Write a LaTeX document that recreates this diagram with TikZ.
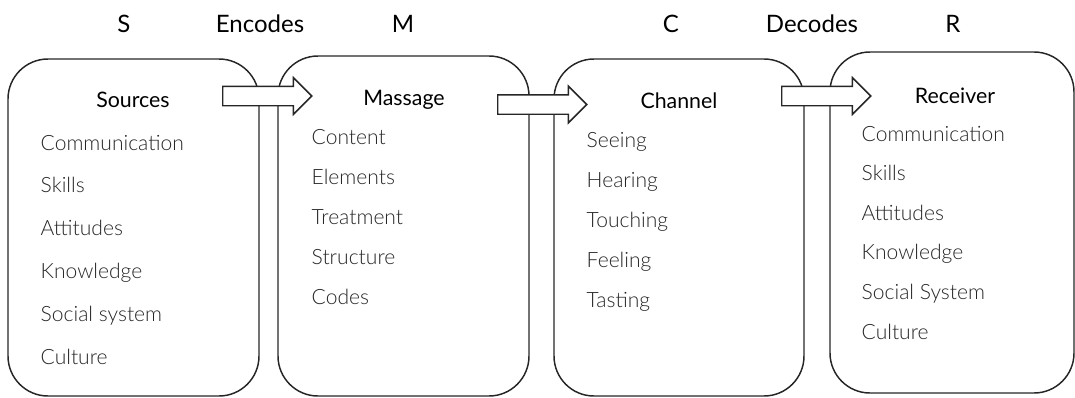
\documentclass[tikz,border=0pt]{standalone}
\usepackage{fontspec}
\setmainfont{Lato}[UprightFont=* Light, BoldFont=* Regular]
\usetikzlibrary{shapes.arrows}

\begin{document}
\begin{tikzpicture}[
    x=0.75pt, y=-0.75pt,
    font=\fontsize{15.8}{18}\selectfont,
    caja/.style={draw=black!85, line width=1.1pt, rounded corners=30pt, inner sep=0pt},
    flecha/.style={single arrow, draw=black!85, fill=white, line width=1.1pt,
      inner xsep=0pt, inner ysep=6.75pt, minimum height=66.75pt,
      single arrow head extend=6.4pt, anchor=tail},
    letra/.style={anchor=base, black, font=\fontsize{18}{20}\bfseries},
    titulo/.style={anchor=base, black, font=\fontsize{16}{18}\bfseries},
    elemento/.style={anchor=base west, black!85}
  ]
  % 1 px de la referencia = 0,75 pt; y crece hacia abajo.
  \useasboundingbox (0,0) rectangle (1075,397);

  % --- cajas ---
  \node[caja, minimum width=188.25pt, minimum height=252.75pt] (fuente)  at (133.5,227.5) {};
  \node[caja, minimum width=188.25pt, minimum height=255pt]    (mensaje) at (403.5,226) {};
  \node[caja, minimum width=187.5pt,  minimum height=252.75pt] (canal)   at (679,227.5) {};
  \node[caja, minimum width=183pt,    minimum height=255.75pt] (receptor) at (952,222.5) {};

  % --- flechas de bloque, por encima de los bordes ---
  \node[flecha] (codifica) at (222,96) {};
  \node[flecha] (transmite) at (497,104.5) {};
  \node[flecha] (decodifica) at (781,96) {};

  % --- fila superior ---
  \foreach \xc/\nombre/\txt in {124/s/S, 260/enc/Encodes, 403/m/M, 671/c/C, 812/dec/Decodes, 953/r/R}{
    \node[letra] (cab-\nombre) at (\xc,32) {\txt};
  }

  % --- titulos ---
  \node[titulo] (tit-fuente)   at (133,107) {Sources};
  \node[titulo] (tit-mensaje)  at (404,105) {Massage};
  \node[titulo] (tit-canal)    at (679,108) {Channel};
  \node[titulo] (tit-receptor) at (955,103) {Receiver};

  % --- listas ---
  \foreach \txt [count=\i] in {Communication, Skills, Attitudes, Knowledge, Social system, Culture}{
    \node[elemento] (f-\i) at (36,{150+42.8*(\i-1)}) {\txt};
  }
  \foreach \txt [count=\i] in {Content, Elements, Treatment, Structure, Codes}{
    \node[elemento] (m-\i) at (307,{144+40*(\i-1)}) {\txt};
  }
  \foreach \txt [count=\i] in {Seeing, Hearing, Touching, Feeling, Tasting}{
    \node[elemento] (c-\i) at (582,{147+40*(\i-1)}) {\txt};
  }
  \foreach \txt [count=\i] in {Communication, Skills, Attitudes, Knowledge, Social System, Culture}{
    \node[elemento] (r-\i) at (857,{141+39.6*(\i-1)}) {\txt};
  }
\end{tikzpicture}
\end{document}
